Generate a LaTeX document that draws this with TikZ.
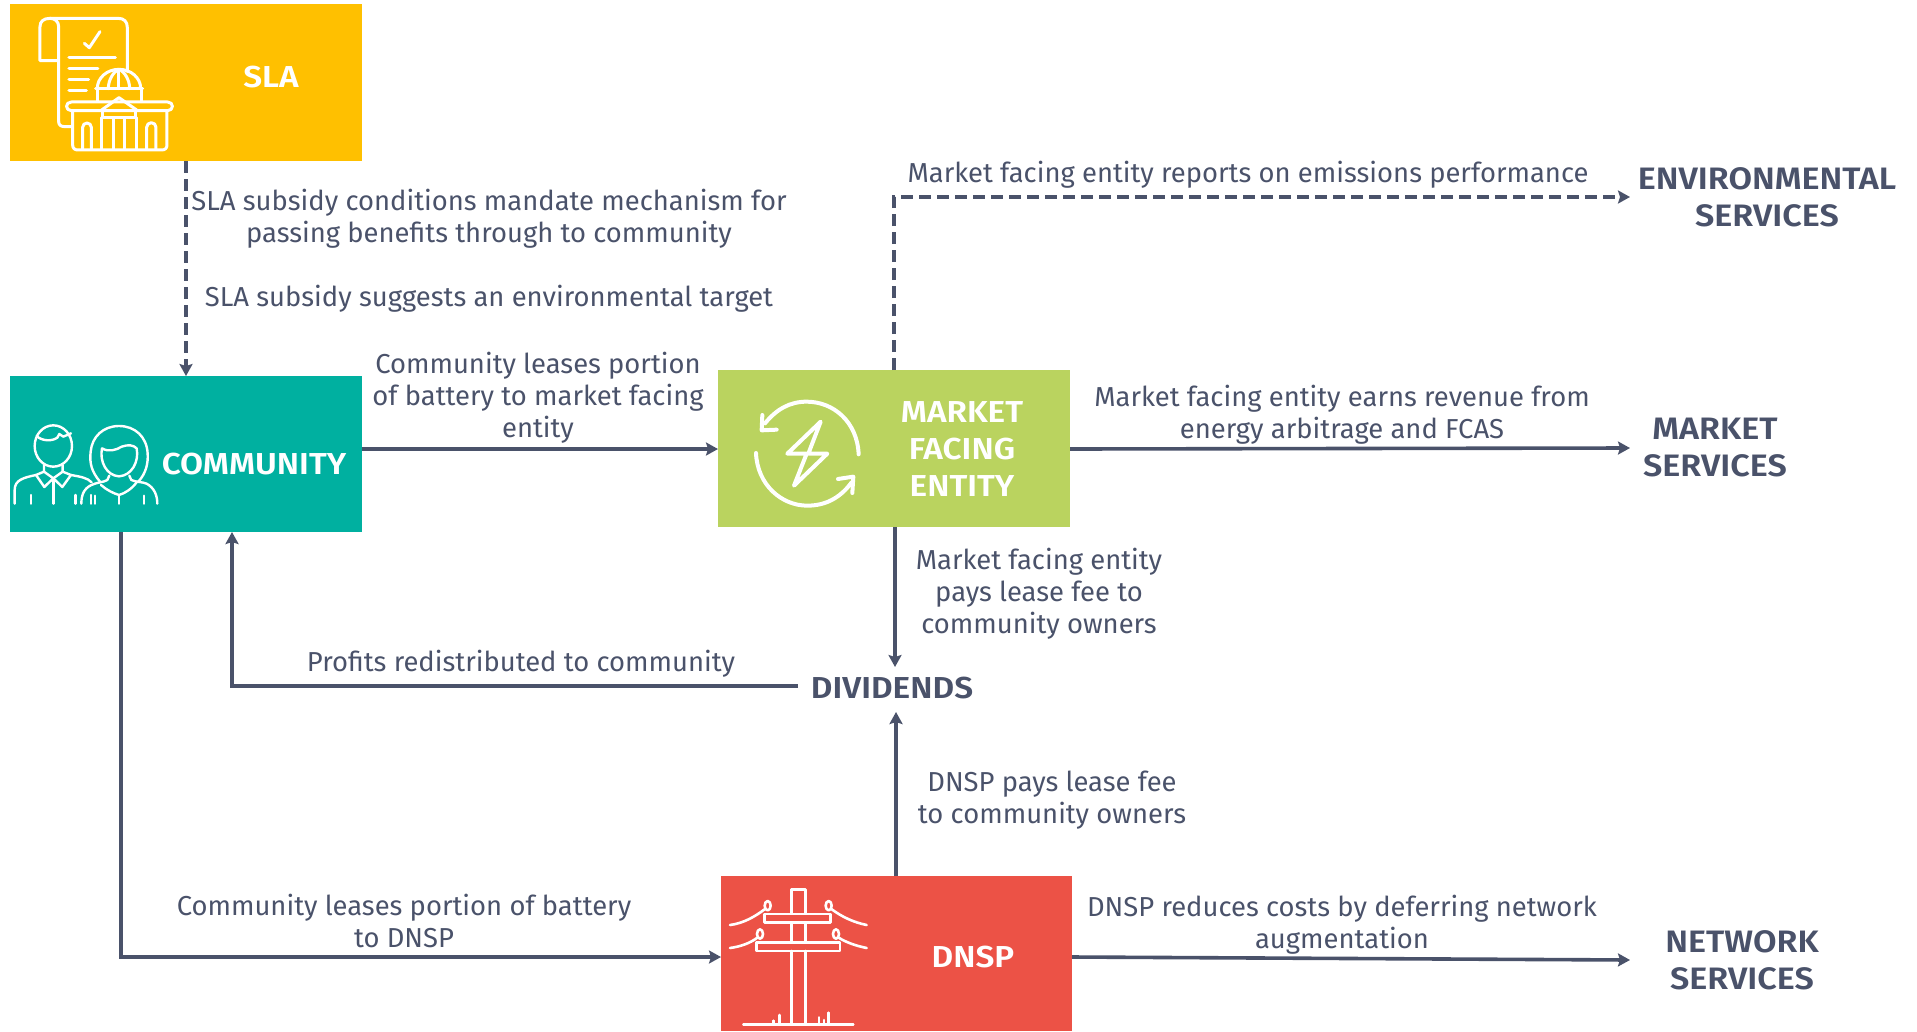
\documentclass[tikz,border=0pt]{standalone}
\usepackage{fontspec}
\setmainfont{Fira Sans}
\newfontfamily\hdfont[FakeStretch=1.1]{Fira Sans SemiBold}
\usetikzlibrary{arrows.meta}
\definecolor{ink}{HTML}{4A526A}
\definecolor{slac}{HTML}{FFC000}
\definecolor{comc}{HTML}{00B0A0}
\definecolor{mktc}{HTML}{BAD35F}
\definecolor{dnsc}{HTML}{EC5246}
\tikzset{
  boxn/.style={minimum width=352pt,minimum height=157pt,inner sep=0pt,outer sep=0pt},
  boxlabel/.style={text=white,font=\fontsize{30.3}{37}\selectfont\hdfont,align=center,inner sep=0pt},
  svc/.style={text=ink,font=\fontsize{31}{37}\selectfont\hdfont,align=center,inner sep=0pt},
  lab/.style={text=ink,font=\fontsize{27.4}{32}\selectfont,align=center,inner sep=0pt},
  conn/.style={draw=ink,line width=3.6pt,-{Stealth[length=12pt,width=13pt,inset=2pt]}},
  dconn/.style={conn,dash pattern=on 12pt off 6pt},
  icon/.style={draw=white,line width=3pt,line cap=round,line join=round},
}
\begin{document}
\begin{tikzpicture}[x=1pt,y=-1pt]
\useasboundingbox (0,0) rectangle (1917,1031);
% boxes
\node[boxn,fill=slac,anchor=north west] (sla) at (10,4) {};
\node[boxn,fill=comc,anchor=north west,minimum height=156pt] (com) at (10,376) {};
\node[boxn,fill=mktc,anchor=north west] (mkt) at (718,370) {};
\node[boxn,fill=dnsc,anchor=north west,minimum width=351pt,minimum height=155pt] (dns) at (721,876) {};
\node[boxlabel] (slat) at (271,77) {SLA};
\node[boxlabel] (comt) at (254,464) {COMMUNITY};
\node[boxlabel] (mktt) at (962,449) {MARKET\\FACING\\ENTITY};
\node[boxlabel] (dnst) at (973,957) {DNSP};
% free labels
\node[svc] (env) at (1767,197) {ENVIRONMENTAL\\SERVICES};
\node[svc] (msv) at (1715,448) {MARKET\\SERVICES};
\node[svc] (nsv) at (1742,960) {NETWORK\\SERVICES};
\node[svc,font=\fontsize{30.3}{37}\selectfont\hdfont] (div) at (892,688) {DIVIDENDS};
\node[lab] (l1) at (489,219) {SLA subsidy conditions mandate mechanism for\\passing benefits through to community};
\node[lab] (l2) at (489,299) {SLA subsidy suggests an environmental target};
\node[lab] (l3) at (538,398) {Community leases portion\\of battery to market facing\\entity};
\node[lab] (l4) at (1248,175) {Market facing entity reports on emissions performance};
\node[lab] (l5) at (1342,415) {Market facing entity earns revenue from\\energy arbitrage and FCAS};
\node[lab] (l6) at (1039,594) {Market facing entity\\pays lease fee to\\community owners};
\node[lab] (l7) at (521,664) {Profits redistributed to community};
\node[lab] (l8) at (1052,800) {DNSP pays lease fee\\to community owners};
\node[lab] (l9) at (404,921) {Community leases portion of battery\\to DNSP};
\node[lab] (l10) at (1342,925) {DNSP reduces costs by deferring network\\augmentation};
% connector ends
\coordinate (envin) at (1630,197);
\coordinate (msvin) at (1630,448);
\coordinate (nsvin) at (1630,960);
\coordinate (divtop) at (895,667);
\coordinate (divbot) at (896,712);
\coordinate (divl) at (798,686);
% connectors
\draw[dconn] (186,161) -- (186,376);
\draw[conn] (com.east |- 0,449) -- (mkt.west |- 0,449);
\draw[dconn] (894,370) -- (894,197) -- (envin);
\draw[conn] (mkt.east |- 0,449) -- (msvin);
\draw[conn] (895,527) -- (divtop);
\draw[conn] (divl) -- (232,686) -- (232,532);
\draw[conn] (896,876) -- (divbot);
\draw[conn] (121,532) -- (121,957) -- (dns.west |- 0,957);
\draw[conn] (dns.east |- 0,957) -- (nsvin);
% SLA icon (zoom coordinates / 3)
\begin{scope}[x=.3333pt,y=-.3333pt,icon]
\draw (176,365) -- (176,80) .. controls (176,65) and (165,55) .. (150,55) .. controls (130,55) and (120,65) .. (120,80) -- (120,182) -- (176,182);
\draw (150,55) -- (355,55) .. controls (372,55) and (382,65) .. (382,82) -- (382,215);
\draw (176,365) .. controls (176,375) and (183,380) .. (195,380) -- (212,380);
\draw (253,130) -- (268,143) -- (300,95);
\draw (207,172) -- (346,172);
\draw (207,206) -- (294,206);
\draw (207,239) -- (266,239);
\draw (207,272) -- (259,272);
\draw (292,265) arc[start angle=180,end angle=360,x radius=65,y radius=57];
\draw (287,266) -- (428,266);
\draw (357,208) -- (357,266);
\draw (325,266) .. controls (325,240) and (340,215) .. (357,208) .. controls (374,215) and (389,240) .. (389,266);
\draw (293,266) -- (293,303);
\draw (424,266) -- (424,303);
\draw (214,306) -- (503,306) .. controls (522,306) and (522,332) .. (503,332) -- (214,332) .. controls (195,332) and (195,306) .. (214,306);
\draw (305,330) -- (357,293) -- (410,330);
\draw (308,332) -- (308,353) -- (406,353) -- (406,332);
\draw (218,335) -- (218,435) .. controls (218,445) and (224,450) .. (234,450) -- (485,450) .. controls (495,450) and (501,445) .. (501,435) -- (501,335);
\draw (248,448) -- (248,382) arc[start angle=180,end angle=360,radius=13] -- (274,448);
\draw (440,448) -- (440,382) arc[start angle=180,end angle=360,radius=14] -- (468,448);
\draw (305,353) -- (305,448);
\draw (340,353) -- (340,448);
\draw (373,353) -- (373,448);
\draw (410,353) -- (410,448);
\end{scope}
% community icon
\begin{scope}[shift={(0,365)},x=.3333pt,y=-.3333pt,icon,line width=2.4pt]
\draw (160,243) ellipse[x radius=56,y radius=62];
\draw (110,213) .. controls (125,228) and (155,230) .. (172,218) -- (178,207) -- (190,215) -- (213,205);
\draw (132,300) -- (132,320) -- (108,330) -- (133,366) -- (160,340) -- (187,366) -- (213,330) -- (188,320) -- (188,300);
\draw (132,320) -- (160,340) -- (188,320);
\draw (160,340) -- (160,416);
\draw (44,416) -- (44,375) .. controls (44,345) and (70,338) .. (108,330);
\draw (213,330) .. controls (240,335) and (262,338) .. (275,352);
\draw (93,390) -- (93,416);
\draw (227,390) -- (227,416);
\draw (300,350) .. controls (275,320) and (268,295) .. (272,260) .. controls (276,215) and (310,183) .. (357,183) .. controls (405,183) and (440,215) .. (443,265) .. controls (445,295) and (438,325) .. (415,350);
\draw (306,250) .. controls (325,262) and (350,255) .. (365,245) .. controls (385,238) and (400,240) .. (410,250) .. controls (418,290) and (395,332) .. (357,334) .. controls (320,332) and (298,290) .. (306,250);
\draw (328,332) -- (322,345) .. controls (310,352) and (295,352) .. (285,356) .. controls (255,365) and (244,385) .. (244,416);
\draw (388,332) -- (394,345) .. controls (410,352) and (425,350) .. (440,356) .. controls (462,368) and (472,390) .. (472,416);
\draw (303,360) .. controls (320,375) and (340,385) .. (357,390) .. controls (375,385) and (395,372) .. (410,352);
\draw (357,390) -- (357,416);
\draw (273,390) -- (273,416);
\draw (285,392) -- (285,416);
\draw (432,392) -- (432,416);
\end{scope}
% market icon
\begin{scope}[shift={(710,365)},x=.3333pt,y=-.3333pt,icon,line width=4pt]
\draw (446,268) .. controls (442,170) and (370,110) .. (290,110) .. controls (240,110) and (200,132) .. (165,175);
\draw (157,150) -- (155,196) -- (200,194);
\draw (138,264) .. controls (142,360) and (215,422) .. (292,422) .. controls (345,422) and (390,400) .. (425,352);
\draw (384,342) -- (430,335) -- (427,384);
\draw (332,170) -- (232,266) -- (290,266) -- (252,362) -- (352,266) -- (295,266) -- cycle;
\end{scope}
% DNSP icon
\begin{scope}[shift={(710,870)},x=.3333pt,y=-.3333pt,icon,line width=2.6pt]
\draw (244,130) -- (244,58) -- (286,58) -- (286,130);
\draw (163,132) -- (362,132) -- (362,157) -- (163,157) -- cycle;
\draw (140,217) -- (390,217) -- (390,243) -- (140,243) -- cycle;
\draw (244,157) -- (244,217);
\draw (286,157) -- (286,217);
\draw (244,243) -- (244,462);
\draw (286,243) -- (286,462);
\draw (173,107) ellipse[x radius=9,y radius=14];
\draw (356,107) ellipse[x radius=9,y radius=14];
\draw (150,192) ellipse[x radius=9,y radius=14];
\draw (378,192) ellipse[x radius=9,y radius=14];
\draw (60,165) .. controls (100,160) and (135,140) .. (165,117);
\draw (364,117) .. controls (395,140) and (430,157) .. (470,165);
\draw (60,234) .. controls (90,230) and (120,220) .. (142,203);
\draw (386,203) .. controls (410,218) and (440,228) .. (470,234);
\draw (100,464) -- (430,464);
\draw (191,464) -- (191,452);
\draw (209,464) -- (209,435);
\draw (327,464) -- (327,442);
\draw (342,464) -- (342,450);
\draw (356,464) -- (356,428);
\end{scope}
\end{tikzpicture}
\end{document}
